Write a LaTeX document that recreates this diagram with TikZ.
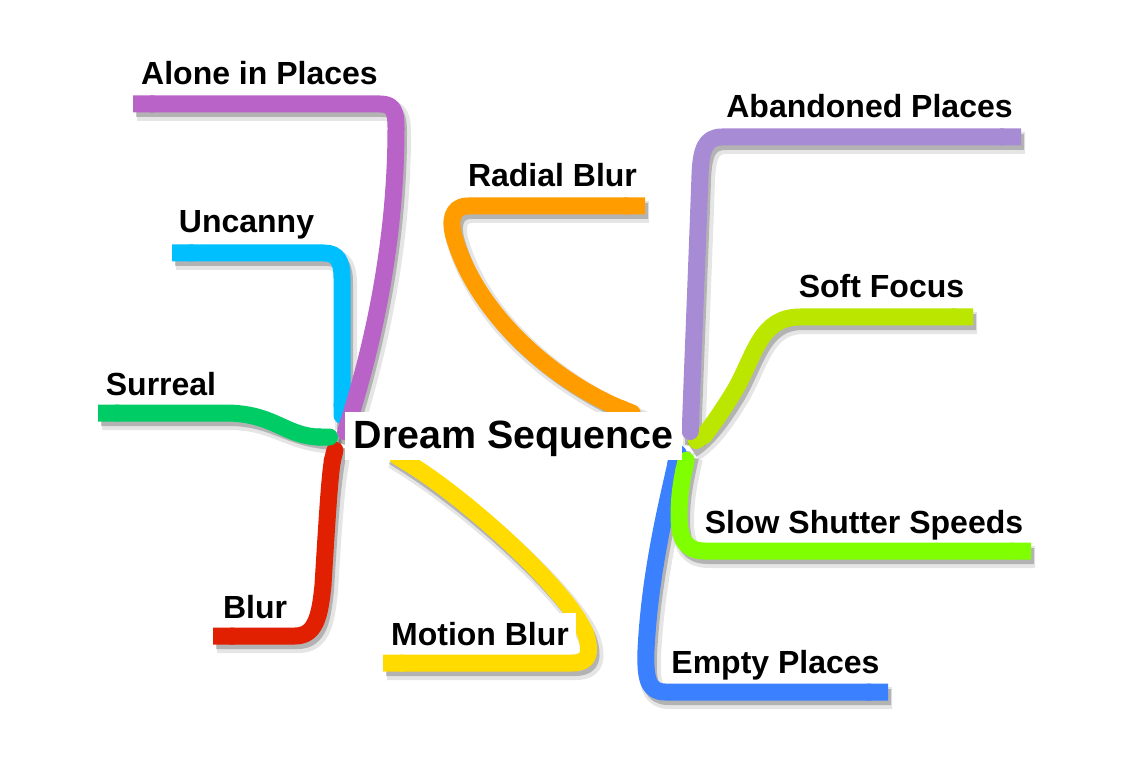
\documentclass[tikz,border=0pt]{standalone}
\usepackage{fontspec}
\setmainfont{Liberation Sans}
\usetikzlibrary{arrows.meta}
\definecolor{cAlone}{RGB}{185,98,200}
\definecolor{cUncanny}{RGB}{0,191,255}
\definecolor{cSurreal}{RGB}{0,204,102}
\definecolor{cBlur}{RGB}{224,32,0}
\definecolor{cMotion}{RGB}{255,219,0}
\definecolor{cRadial}{RGB}{255,156,0}
\definecolor{cAband}{RGB}{167,139,212}
\definecolor{cSoft}{RGB}{187,230,0}
\definecolor{cSlow}{RGB}{128,255,0}
\definecolor{cEmpty}{RGB}{58,128,255}
\begin{document}
\begin{tikzpicture}[x=1pt,y=-1pt,
  branch/.style={line width=17pt, line join=round, arrows={Butt Cap-Round Cap}},
  brshadowa/.style={draw=black, opacity=0.10, line width=22pt, line join=round, line cap=butt, transform canvas={shift={(4,6)}}},
  brshadowb/.style={draw=black, opacity=0.22, line width=16pt, line join=round, line cap=butt, transform canvas={shift={(3,5)}}},
  label/.style={font=\fontsize{32}{38}\selectfont\bfseries, inner sep=0pt, anchor=base},
  centre/.style={font=\fontsize{39.4}{46}\selectfont\bfseries, fill=white, inner xsep=0pt, inner ysep=6pt,
    text height=30pt, text depth=6pt, minimum width=337pt}]
\useasboundingbox (0,0) rectangle (1128,770);
% end points
\coordinate (alone-leaf) at (133,104);  \coordinate (alone-root) at (343,440);
\coordinate (uncanny-leaf) at (172,253); \coordinate (uncanny-root) at (342,424);
\coordinate (surreal-leaf) at (98,413); \coordinate (surreal-root) at (338,437);
\coordinate (blur-leaf) at (213,636);   \coordinate (blur-root) at (337,442);
\coordinate (motion-leaf) at (383,663); \coordinate (motion-root) at (390,452);
\coordinate (radial-leaf) at (645,206); \coordinate (radial-root) at (640,416);
\coordinate (aband-leaf) at (1021,137); \coordinate (aband-root) at (690,440);
\coordinate (soft-leaf) at (973,317);   \coordinate (soft-root) at (689,445);
\coordinate (slow-leaf) at (1031,551);  \coordinate (slow-root) at (688,452);
\coordinate (empty-leaf) at (888,692);  \coordinate (empty-root) at (680,445);
\def\pAlone{(alone-leaf) -- (380,104) .. controls (394,104) and (396,112) .. (396,128) .. controls (396,260) and (365,370) .. (alone-root)}
\def\pUncanny{(uncanny-leaf) -- (324,253) .. controls (338,253) and (342,262) .. (342,278) -- (uncanny-root)}
\def\pSurreal{(surreal-leaf) -- (225,413) .. controls (275,413) and (285,437) .. (surreal-root)}
\def\pBlur{(blur-leaf) -- (295,636) .. controls (316,636) and (320,615) .. (323,585) .. controls (327,520) and (330,470) .. (blur-root)}
\def\pMotion{(motion-leaf) -- (572,663) .. controls (590,663) and (591,652) .. (586,635) .. controls (572,595) and (470,500) .. (motion-root)}
\def\pRadial{(radial-leaf) -- (468,206) .. controls (451,206) and (449,222) .. (455,240) .. controls (480,320) and (560,385) .. (radial-root)}
\def\pAband{(aband-leaf) -- (722,137) .. controls (705,137) and (701,150) .. (700,175) .. controls (697,260) and (692,380) .. (aband-root)}
\def\pSoft{(soft-leaf) -- (800,317) .. controls (760,317) and (755,355) .. (735,390) .. controls (720,415) and (705,435) .. (soft-root)}
\def\pSlow{(slow-leaf) -- (705,551) .. controls (686,551) and (679,540) .. (679,515) .. controls (679,490) and (684,470) .. (slow-root)}
\def\pEmpty{(empty-leaf) -- (665,692) .. controls (648,692) and (645,678) .. (646,650) .. controls (650,570) and (668,500) .. (empty-root)}
% shadows
\foreach \p in {\pAlone,\pUncanny,\pSurreal,\pBlur,\pMotion,\pRadial,\pAband,\pSoft,\pSlow,\pEmpty}{
  \draw[brshadowa] \p; \draw[brshadowb] \p;}
% branches
\draw[branch, cRadial] \pRadial;
\draw[branch, cMotion] \pMotion;
\draw[branch, cBlur] \pBlur;
\draw[branch, cSurreal] \pSurreal;
\draw[branch, cUncanny] \pUncanny;
\draw[branch, cAlone] \pAlone;
\draw[branch, cEmpty] \pEmpty;
\draw[branch, cSlow] \pSlow;
\draw[branch, cSoft] \pSoft;
\draw[branch, cAband] \pAband;
% centre
\node[centre] (center) at (513.5,436) {Dream Sequence};
% labels
\node[label] (alone) at (259.5,85) {Alone in Places};
\node[label] (uncanny) at (246.5,233) {Uncanny};
\node[label] (surreal) at (161,395) {Surreal};
\node[label] (blur) at (255,618) {Blur};
\node[label, fill=white, inner xsep=7pt, inner ysep=9pt] (motion) at (480,645) {Motion Blur};
\node[label] (radial) at (552.5,187) {Radial Blur};
\node[label] (aband) at (869.5,118) {Abandoned Places};
\node[label] (soft) at (881.5,298) {Soft Focus};
\node[label] (slow) at (864,533) {Slow Shutter Speeds};
\node[label] (empty) at (775.5,673) {Empty Places};
\end{tikzpicture}
\end{document}
